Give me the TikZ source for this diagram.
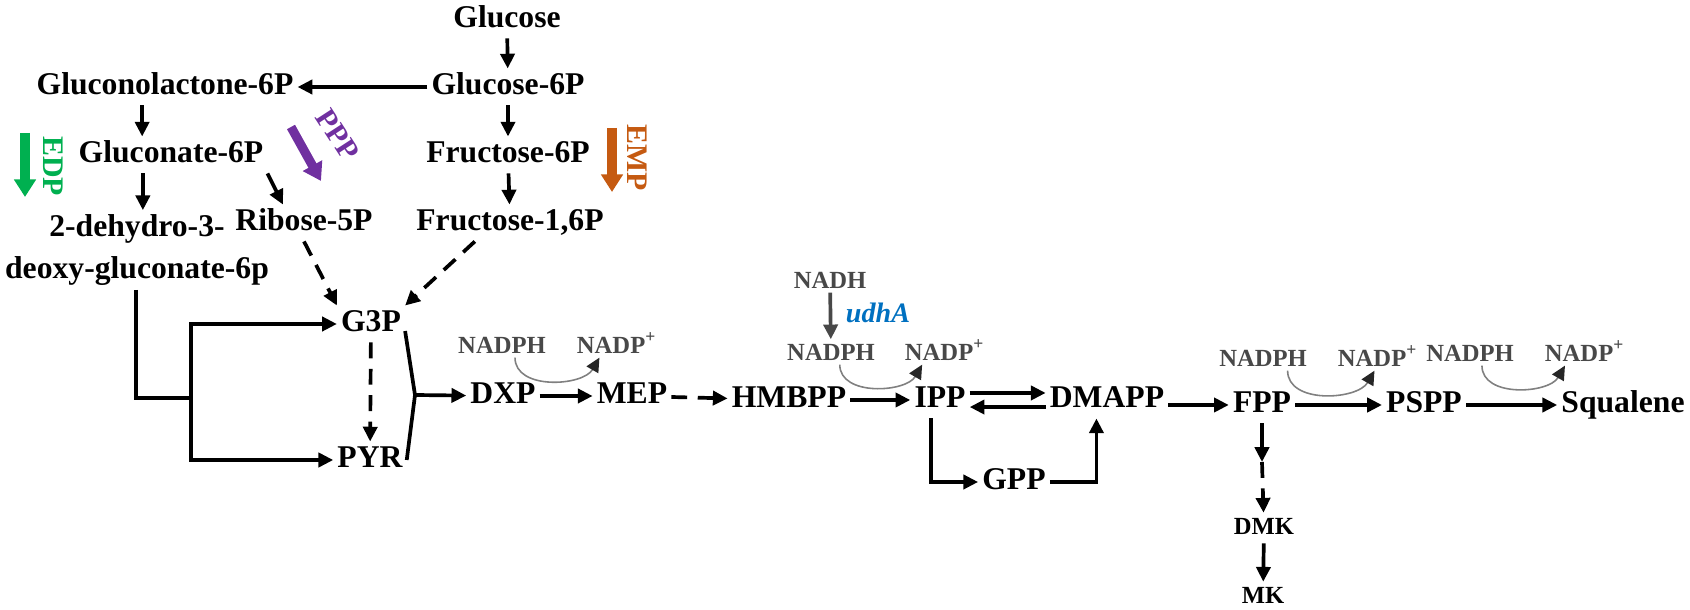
\documentclass[tikz,border=0pt]{standalone}
\usepackage{fontspec}
\setmainfont{Liberation Serif}
\usetikzlibrary{arrows.meta}

\definecolor{edpgreen}{RGB}{0,176,80}
\definecolor{ppppurple}{RGB}{112,48,160}
\definecolor{emporange}{RGB}{197,90,17}
\definecolor{udhblue}{RGB}{0,112,192}
\definecolor{cofgray}{RGB}{72,72,72}

\begin{document}
\begin{tikzpicture}[x=0.01cm,y=0.01cm,
  met/.style={font=\bfseries\fontsize{9}{12}\selectfont, inner sep=1pt, text height=6.3pt, text depth=1.8pt},
  smet/.style={font=\bfseries\fontsize{7}{9}\selectfont, inner sep=1pt, text height=4.9pt, text depth=1.4pt},
  cof/.style={font=\bfseries\fontsize{7}{9}\selectfont, text=cofgray, inner sep=1pt, text height=4.8pt, text depth=0pt},
  lbl/.style={font=\bfseries\fontsize{8.5}{10}\selectfont, inner sep=0pt},
  arr/.style={line width=1.05pt, -{Triangle[length=4.2pt,width=4pt]}},
  darr/.style={arr, dash pattern=on 4.5pt off 3pt},
  garr/.style={arr, draw=cofgray},
  garc/.style={draw=gray, line width=0.45pt, -{Triangle[length=4pt,width=3.8pt,color=black!85]}},
  fat/.style={line width=2.6pt, -{Triangle[length=5pt,width=6pt]}}]

\useasboundingbox (0,0) rectangle (1690,-610);

% Metabolites (haut)
\node[met] (glc) at (507,-20) {Glucose};
\node[met] (g6p) at (508,-87) {Glucose-6P};
\node[met] (f6p) at (508,-155) {Fructose-6P};
\node[met] (f16) at (510,-223) {Fructose-1,6P};
\node[met] (glnl) at (165,-87) {Gluconolactone-6P};
\node[met] (gln6) at (171,-155) {Gluconate-6P};
\node[met] (rib) at (304,-223) {Ribose-5P};
\node[font=\bfseries\fontsize{9}{12}\selectfont, inner sep=1pt, align=center] (kdpg) at (137,-250) {2-dehydro-3-\\deoxy-gluconate-6p};

% Metabolites (bas)
\node[met] (g3p) at (371,-324) {G3P};
\node[met] (pyr) at (370,-460) {PYR};
\node[met] (dxp) at (503,-396) {DXP};
\node[met] (mep) at (632,-396) {MEP};
\node[met] (hmb) at (789,-400) {HMBPP};
\node[met] (ipp) at (940,-400) {IPP};
\node[met] (dma) at (1107,-400) {DMAPP};
\node[met] (gpp) at (1014,-482) {GPP};
\node[met] (fpp) at (1262,-405) {FPP};
\node[met] (pspp) at (1424,-405) {PSPP};
\node[met] (sql) at (1623,-405) {Squalene};
\node[smet] (dmk) at (1264,-528) {DMK};
\node[smet] (mk) at (1263,-597) {MK};

% Cofacteurs
\node[cof] (ph1) at (502,-345) {NADPH};
\node[cof] (pp1) at (617,-345) {NADP\textsuperscript{+}};
\node[cof] (nadh) at (830,-280) {NADH};
\node[font=\bfseries\itshape\fontsize{8}{10}\selectfont, text=udhblue, inner sep=1pt] (udha) at (878,-313) {udhA};
\node[cof] (ph2) at (831,-352) {NADPH};
\node[cof] (pp2) at (945,-352) {NADP\textsuperscript{+}};
\node[cof] (ph3) at (1263,-358) {NADPH};
\node[cof] (pp3) at (1378,-358) {NADP\textsuperscript{+}};
\node[cof] (ph4) at (1470,-353) {NADPH};
\node[cof] (pp4) at (1585,-353) {NADP\textsuperscript{+}};

% Glycolyse et voie des pentoses
\draw[arr] (glc) -- (g6p);
\draw[arr] (g6p) -- (f6p);
\draw[arr] (f6p) -- (f16);
\draw[arr] (g6p) -- (glnl);
\draw[arr] ([xshift=-6.5pt]glnl.south) -- ([xshift=-6.5pt]glnl.south |- gln6.north);
\draw[arr] ([xshift=-8pt]gln6.south) -- ([xshift=-8pt]gln6.south |- kdpg.north);
\draw[arr] (gln6.south east) -- ([xshift=-6pt]rib.north);
\draw[darr] (rib.south) -- (g3p.north west);
\draw[darr] ([xshift=-10pt]f16.south) -- (g3p.north east);

% Branche ED vers G3P et PYR
\coordinate (k1) at (136,-398);
\coordinate (k2) at (191,-398);
\draw[line width=1.05pt] (kdpg.south -| k1) -- (k1) -- (k2);
\draw[arr] (k2) |- (g3p);
\draw[arr] (k2) |- (pyr);
\draw[darr] (g3p) -- (pyr);

\coordinate (jn) at (415,-395);
\draw[line width=1.05pt] ([yshift=-2pt]g3p.east) -- (jn) -- (pyr.east);
\draw[arr] (jn) -- (dxp);

% Voie MEP
\draw[arr] (dxp) -- (mep);
\draw[darr] (mep) -- (hmb);
\draw[arr] (hmb) -- (ipp);
\draw[arr] ([yshift=2pt]ipp.east) -- ([yshift=2pt]dma.west);
\draw[arr] ([yshift=-2pt]dma.west) -- ([yshift=-2pt]ipp.east);
\draw[arr] ([xshift=-2.5pt]ipp.south) |- (gpp);
\draw[arr] (gpp) -| ([xshift=-3pt]dma.south);
\draw[arr] (dma.east |- fpp) -- (fpp);
\draw[arr] (fpp) -- (pspp);
\draw[arr] (pspp) -- (sql);

\coordinate (fk) at (1262,-462);
\draw[arr] (fpp) -- (fk);
\draw[darr] (fk) -- (dmk);
\draw[arr] (dmk) -- (mk);

% NADPH -> NADP+
\draw[garr] (nadh) -- (ph2);
\draw[garc] ([xshift=3.7pt]ph1.south) to[out=-90,in=-120] ([xshift=-5pt]pp1.south);
\draw[garc] ([xshift=2.5pt]ph2.south) to[out=-90,in=-120] ([xshift=-6.5pt]pp2.south);
\draw[garc] ([xshift=7pt]ph3.south) to[out=-90,in=-120] ([xshift=-1pt]pp3.south);
\draw[garc] ([xshift=3.4pt]ph4.south) to[out=-90,in=-120] ([xshift=-5.7pt]pp4.south);

% Fleches de couleur (EDP, PPP, EMP)
\coordinate (edpA) at (25,-133);
\coordinate (edpB) at (25,-197);
\draw[fat, edpgreen] (edpA) -- (edpB);
\node[lbl, rotate=-90, text=edpgreen] (edp) at (53,-166) {EDP};

\coordinate (pppA) at (291,-127);
\coordinate (pppB) at (321,-181);
\draw[fat, ppppurple] (pppA) -- (pppB);
\node[lbl, rotate=-57, text=ppppurple] (ppp) at (338,-135) {PPP};

\coordinate (empA) at (612,-128);
\coordinate (empB) at (612,-192);
\draw[fat, emporange] (empA) -- (empB);
\node[lbl, rotate=-90, text=emporange] (emp) at (637,-158) {EMP};

\end{tikzpicture}
\end{document}
